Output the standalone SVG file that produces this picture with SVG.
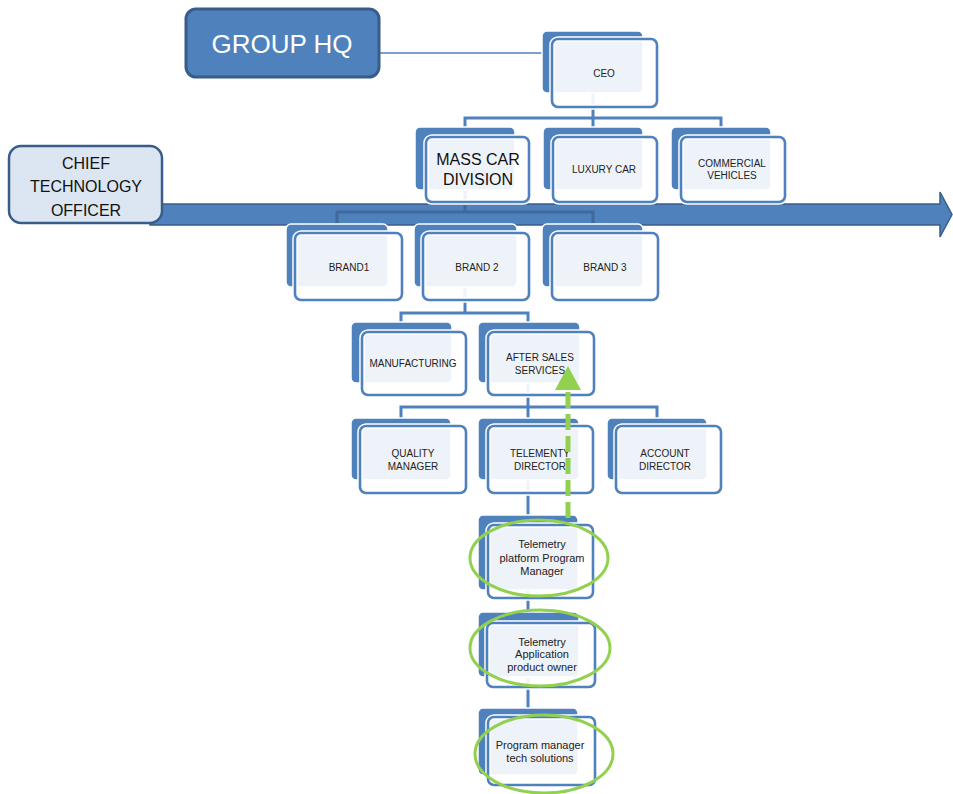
<svg xmlns="http://www.w3.org/2000/svg" width="953" height="794" viewBox="0 0 953 794">
<style>
.back{fill:#4F81BD;stroke:#FFFFFF;stroke-width:1.5}
.halo{fill:none;stroke:#FFFFFF;stroke-width:5.5}
.front{fill:#FFFFFF;fill-opacity:0.9;stroke:#4F81BD;stroke-width:2.6}
.t{font-family:"Liberation Sans",Arial,sans-serif;font-size:10px;fill:#222;text-anchor:middle}
.t11{font-family:"Liberation Sans",Arial,sans-serif;font-size:11px;fill:#222;text-anchor:middle}
.conn{fill:none;stroke:#4F81BD;stroke-width:3}
.connd{fill:none;stroke:#41699C;stroke-width:3}
.oval{fill:none;stroke:#92D050;stroke-width:3}
</style>
<rect width="953" height="794" fill="#FFFFFF"/>

<!-- band arrow -->
<polygon id="band" points="150,204 940,204 940,192 952,214.5 940,237 940,225 150,225" fill="#4F81BD" stroke="#385D8A" stroke-width="1.5"/>

<g id="connectors">
  <line x1="379" y1="53" x2="545" y2="53" stroke="#4F81BD" stroke-width="1.5"/>
  <polyline class="conn" points="593,93 593,118"/>
  <polyline class="conn" points="465,127 465,118 721,118 721,127"/>
  <line class="conn" x1="593" y1="118" x2="593" y2="127"/>
  <polyline class="conn" points="465,190 465,204"/>
  <polyline class="connd" points="465,204 465,212"/>
  <polyline class="connd" points="337,224 337,212 593,212 593,224"/>
  <polyline class="conn" points="465,287 465,313"/>
  <polyline class="conn" points="401,322 401,313 528,313 528,322"/>
  <polyline class="conn" points="528,383 528,407"/>
  <polyline class="conn" points="401,418 401,407 657,407 657,418"/>
  <line class="conn" x1="528" y1="407" x2="528" y2="418"/>
  <line class="conn" x1="528" y1="480" x2="528" y2="708"/>
</g>

<g id="group-hq">
  <rect x="186" y="9" width="193" height="68" rx="10" fill="#4F81BD" stroke="#385D8A" stroke-width="3"/>
  <text x="282" y="53" font-family="Liberation Sans,Arial,sans-serif" font-size="26" fill="#FFFFFF" text-anchor="middle">GROUP HQ</text>
</g>

<g id="cto">
  <rect x="9" y="146" width="153" height="77" rx="12" fill="#DCE6F2" stroke="#385D8A" stroke-width="2.5"/>
  <text x="86" y="169" font-family="Liberation Sans,Arial,sans-serif" font-size="16" fill="#111" text-anchor="middle">CHIEF</text>
  <text x="86" y="192" font-family="Liberation Sans,Arial,sans-serif" font-size="16" fill="#111" text-anchor="middle">TECHNOLOGY</text>
  <text x="86" y="216" font-family="Liberation Sans,Arial,sans-serif" font-size="16" fill="#111" text-anchor="middle">OFFICER</text>
</g>

<g id="ceo">
  <rect class="back" x="542" y="31" width="101" height="62" rx="5"/>
  <rect class="halo" x="552" y="39" width="105" height="68" rx="6"/>
  <rect class="front" x="552" y="39" width="105" height="68" rx="6"/>
  <text class="t" x="604" y="76.5">CEO</text>
</g>

<g id="mass-car">
  <rect class="back" x="415" y="127" width="100" height="63" rx="5"/>
  <rect class="halo" x="426" y="137" width="103" height="65" rx="6"/>
  <rect class="front" x="426" y="137" width="103" height="65" rx="6"/>
  <text x="478" y="165" font-family="Liberation Sans,Arial,sans-serif" font-size="16" fill="#111" text-anchor="middle">MASS CAR</text>
  <text x="478" y="185" font-family="Liberation Sans,Arial,sans-serif" font-size="16" fill="#111" text-anchor="middle">DIVISION</text>
</g>

<g id="luxury-car">
  <rect class="back" x="543" y="127" width="100" height="63" rx="5"/>
  <rect class="halo" x="553" y="137" width="104" height="65" rx="6"/>
  <rect class="front" x="553" y="137" width="104" height="65" rx="6"/>
  <text class="t" x="604" y="172.5">LUXURY CAR</text>
</g>

<g id="commercial">
  <rect class="back" x="671" y="127" width="100" height="63" rx="5"/>
  <rect class="halo" x="681" y="137" width="104" height="65" rx="6"/>
  <rect class="front" x="681" y="137" width="104" height="65" rx="6"/>
  <text class="t" x="732" y="166.5">COMMERCIAL</text>
  <text class="t" x="732" y="179">VEHICLES</text>
</g>

<g id="brand1">
  <rect class="back" x="286" y="224" width="102" height="63" rx="5"/>
  <rect class="halo" x="295" y="233" width="107" height="67" rx="6"/>
  <rect class="front" x="295" y="233" width="107" height="67" rx="6"/>
  <text class="t" x="349" y="270.5">BRAND1</text>
</g>

<g id="brand2">
  <rect class="back" x="414" y="224" width="103" height="63" rx="5"/>
  <rect class="halo" x="423" y="233" width="106" height="67" rx="6"/>
  <rect class="front" x="423" y="233" width="106" height="67" rx="6"/>
  <text class="t" x="477" y="270.5">BRAND 2</text>
</g>

<g id="brand3">
  <rect class="back" x="542" y="224" width="101" height="63" rx="5"/>
  <rect class="halo" x="552" y="233" width="106" height="67" rx="6"/>
  <rect class="front" x="552" y="233" width="106" height="67" rx="6"/>
  <text class="t" x="605" y="270.5">BRAND 3</text>
</g>

<g id="manufacturing">
  <rect class="back" x="351" y="322" width="101" height="61" rx="5"/>
  <rect class="halo" x="362" y="332" width="104" height="63" rx="6"/>
  <rect class="front" x="362" y="332" width="104" height="63" rx="6"/>
  <text class="t" x="413" y="366.5">MANUFACTURING</text>
</g>

<g id="after-sales">
  <rect class="back" x="478" y="322" width="102" height="61" rx="5"/>
  <rect class="halo" x="488" y="332" width="106" height="63" rx="6"/>
  <rect class="front" x="488" y="332" width="106" height="63" rx="6"/>
  <text class="t" x="540" y="360.5">AFTER SALES</text>
  <text class="t" x="540" y="374">SERVICES</text>
</g>

<g id="quality-manager">
  <rect class="back" x="351" y="418" width="100" height="62" rx="5"/>
  <rect class="halo" x="360" y="426" width="106" height="67" rx="6"/>
  <rect class="front" x="360" y="426" width="106" height="67" rx="6"/>
  <text class="t" x="413" y="456.5">QUALITY</text>
  <text class="t" x="413" y="470">MANAGER</text>
</g>

<g id="telemetry-director">
  <rect class="back" x="478" y="418" width="101" height="62" rx="5"/>
  <rect class="halo" x="488" y="426" width="105" height="67" rx="6"/>
  <rect class="front" x="488" y="426" width="105" height="67" rx="6"/>
  <text class="t" x="540" y="456.5">TELEMENTY</text>
  <text class="t" x="540" y="470">DIRECTOR</text>
</g>

<g id="account-director">
  <rect class="back" x="607" y="418" width="100" height="62" rx="5"/>
  <rect class="halo" x="616" y="426" width="105" height="67" rx="6"/>
  <rect class="front" x="616" y="426" width="105" height="67" rx="6"/>
  <text class="t" x="665" y="456.5">ACCOUNT</text>
  <text class="t" x="665" y="470">DIRECTOR</text>
</g>

<g id="platform-pm">
  <rect class="back" x="478" y="515" width="100" height="75" rx="5"/>
  <rect class="halo" x="488" y="525" width="105" height="73" rx="6"/>
  <rect class="front" x="488" y="525" width="105" height="73" rx="6"/>
  <text class="t11" x="542" y="548">Telemetry</text>
  <text class="t11" x="542" y="561.5">platform Program</text>
  <text class="t11" x="542" y="575">Manager</text>
</g>

<g id="app-owner">
  <rect class="back" x="478" y="612" width="101" height="65" rx="5"/>
  <rect class="halo" x="487" y="623" width="108" height="64" rx="6"/>
  <rect class="front" x="487" y="623" width="108" height="64" rx="6"/>
  <text class="t11" x="542" y="645.5">Telemetry</text>
  <text class="t11" x="542" y="658">Application</text>
  <text class="t11" x="542" y="671">product owner</text>
</g>

<g id="pm-tech">
  <rect class="back" x="478" y="708" width="100" height="67" rx="5"/>
  <rect class="halo" x="488" y="717" width="107" height="68" rx="6"/>
  <rect class="front" x="488" y="717" width="107" height="68" rx="6"/>
  <text class="t11" x="540" y="749">Program manager</text>
  <text class="t11" x="540" y="762">tech solutions</text>
</g>

<g id="green-arrow">
  <line x1="568" y1="518" x2="568" y2="388" stroke="#92D050" stroke-width="5" stroke-dasharray="16 6"/>
  <polygon points="568,366 555,390 581,390" fill="#92D050"/>
</g>

<g id="highlights">
  <ellipse class="oval" cx="539" cy="558" rx="69" ry="38"/>
  <ellipse class="oval" cx="540" cy="648" rx="70" ry="38"/>
  <ellipse class="oval" cx="544" cy="754" rx="69" ry="39"/>
</g>
</svg>
